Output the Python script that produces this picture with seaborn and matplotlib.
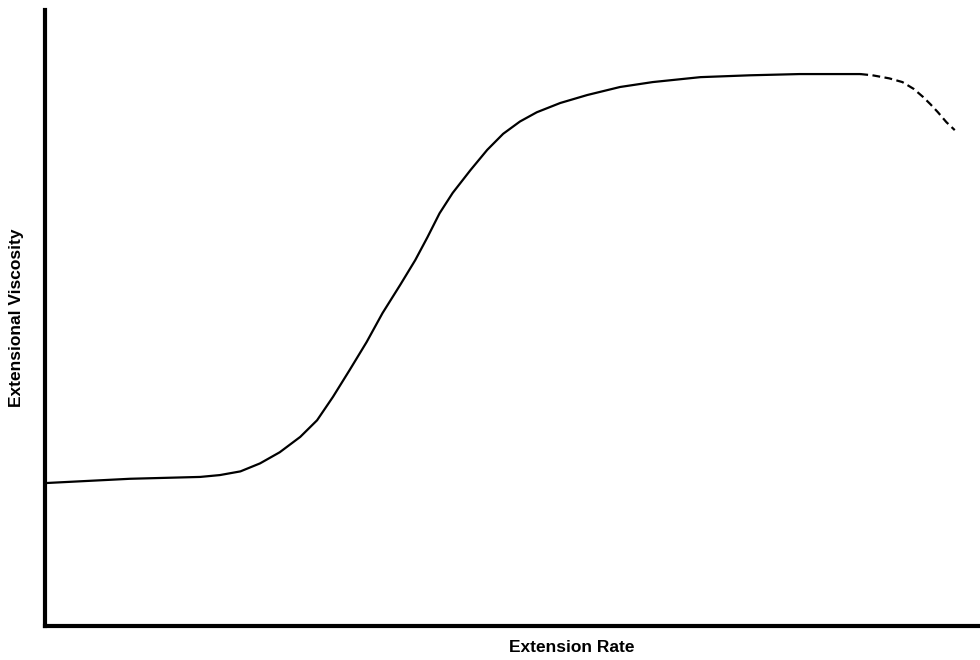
import seaborn as sns
import matplotlib.pyplot as plt
import pandas as pd

# readings from the reference (arbitrary units, axes run 0..100)
rate = [0.0, 9.1, 16.6, 18.7, 20.9, 23.0, 25.1, 27.3, 29.1, 30.8, 32.6, 34.4,
        36.1, 38.0, 39.6, 40.9, 42.2, 43.6, 45.5, 47.3, 49.0, 50.8, 52.6, 55.1,
        58.0, 61.5, 65.0, 70.1, 75.4, 80.7, 87.2]
viscosity = [23.2, 23.9, 24.2, 24.5, 25.1, 26.4, 28.2, 30.7, 33.4, 37.2, 41.6, 46.1,
             50.8, 55.4, 59.4, 63.1, 67.0, 70.3, 74.0, 77.3, 79.9, 81.9, 83.4, 84.9,
             86.2, 87.5, 88.3, 89.1, 89.4, 89.6, 89.6]

# dashed part where the curve breaks down
rate_break = [87.2, 88.5, 90.3, 91.7, 92.9, 93.9, 94.7, 95.5, 96.4, 97.3]
visc_break = [89.6, 89.4, 88.9, 88.3, 87.2, 85.9, 84.7, 83.4, 81.8, 80.5]

main = pd.DataFrame({"rate": rate, "viscosity": viscosity})
tail = pd.DataFrame({"rate": rate_break, "viscosity": visc_break})

sns.set_style("white")
plt.rcParams['font.family'] = ['Liberation Sans', 'DejaVu Sans']

fig = plt.figure(figsize=(9.8, 6.6), dpi=100)
ax = fig.add_axes([45 / 980, 34 / 660, 935 / 980, 616 / 660])

sns.lineplot(data=main, x="rate", y="viscosity", ax=ax, color="black",
             linewidth=1.6, sort=False, estimator=None)
sns.lineplot(data=tail, x="rate", y="viscosity", ax=ax, color="black",
             linewidth=1.6, sort=False, estimator=None, linestyle=(0, (3.5, 2)))

ax.set_xlim(0, 100)
ax.set_ylim(0, 100)
ax.set_xticks([])
ax.set_yticks([])
ax.set_xlabel("Extension Rate", fontsize=12.5, fontweight="bold", color="black")
ax.set_ylabel("Extensional Viscosity", fontsize=12.5, fontweight="bold", color="black")
ax.xaxis.set_label_coords((572 - 45) / 935, -14 / 616)
ax.yaxis.set_label_coords(-21 / 935, 0.5)

for s in ["top", "right"]:
    ax.spines[s].set_visible(False)
for s in ["left", "bottom"]:
    ax.spines[s].set_linewidth(3)
    ax.spines[s].set_color("black")

fig.savefig("out.png", dpi=100)
